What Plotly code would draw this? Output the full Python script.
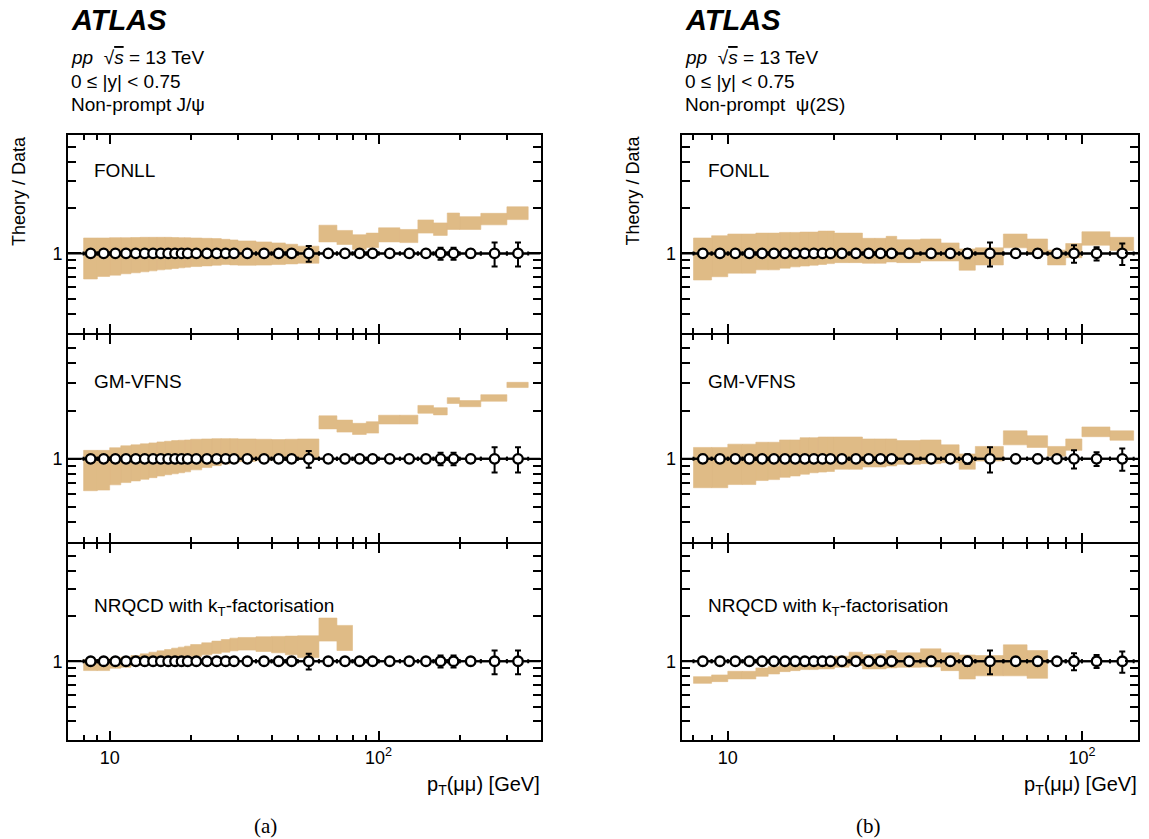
import math
import plotly.graph_objects as go

# ---------------- data ----------------
EDGES_JPSI = [8, 9, 10, 11, 12, 13, 14, 15, 16, 17, 18, 19, 20, 22, 24, 26, 28, 30, 35, 40, 45, 50,
              60, 70, 80, 90, 100, 120, 140, 160, 180, 200, 240, 300, 360]
EDGES_PSI2S = [8, 9, 10, 11, 12, 13, 14, 15, 16, 17, 18, 19, 20, 22, 24, 26, 28, 30, 35, 40, 45, 50,
               60, 70, 80, 90, 100, 120, 140]

# relative data uncertainties (Data/Data = 1)
ERR_JPSI = [0.015, 0.01, 0.01, 0.01, 0.01, 0.01, 0.01, 0.01, 0.01, 0.01, 0.01, 0.01, 0.01, 0.01,
            0.01, 0.01, 0.01, 0.015, 0.015, 0.015, 0.015, 0.12, 0.015, 0.02, 0.02, 0.035, 0.02,
            0.025, 0.03, 0.09, 0.09, 0.06, 0.18, 0.18]
ERR_PSI2S = [0.06, 0.02, 0.015, 0.015, 0.015, 0.015, 0.015, 0.015, 0.015, 0.015, 0.015, 0.015,
             0.015, 0.015, 0.015, 0.015, 0.015, 0.015, 0.02, 0.02, 0.07, 0.18, 0.03, 0.06, 0.04,
             0.13, 0.1, 0.16]

# J/psi theory / data bands
FONLL_JPSI_UP = [1.263, 1.263, 1.269, 1.269, 1.272, 1.276, 1.276, 1.276, 1.276, 1.272, 1.269, 1.269,
                 1.263, 1.257, 1.251, 1.238, 1.226, 1.208, 1.19, 1.172, 1.149, 1.116, 1.533, 1.416,
                 1.327, 1.36, 1.473, 1.437, 1.66, 1.587, 1.843, 1.745, 1.834, 2.025]
FONLL_JPSI_LO = [0.679, 0.706, 0.720, 0.735, 0.746, 0.757, 0.768, 0.780, 0.788, 0.796, 0.804, 0.812,
                 0.820, 0.828, 0.836, 0.845, 0.840, 0.836, 0.838, 0.845, 0.853, 0.862, 1.19, 1.144,
                 1.062, 1.094, 1.19, 1.178, 1.36, 1.314, 1.437, 1.437, 1.541, 1.668]
GMVFNS_JPSI_UP = [1.130, 1.130, 1.174, 1.207, 1.224, 1.242, 1.259, 1.277, 1.289, 1.302, 1.308, 1.314,
                  1.327, 1.333, 1.339, 1.339, 1.339, 1.333, 1.327, 1.32, 1.327, 1.333, 1.862, 1.751,
                  1.671, 1.711, 1.879, 1.879, 2.165, 2.095, 2.424, 2.323, 2.529, 3.025]
GMVFNS_JPSI_LO = [0.630, 0.636, 0.686, 0.709, 0.726, 0.743, 0.761, 0.779, 0.794, 0.805, 0.817, 0.828,
                  0.852, 0.881, 0.906, 0.927, 0.945, 0.963, 0.977, 0.986, 0.995, 1.0, 1.542, 1.472,
                  1.423, 1.451, 1.655, 1.655, 1.933, 1.888, 2.227, 2.125, 2.301, 2.805]
NRQCD_JPSI_UP = [1.026, 1.026, 1.047, 1.063, 1.091, 1.119, 1.148, 1.172, 1.196, 1.221, 1.24, 1.259,
                 1.291, 1.325, 1.36, 1.394, 1.423, 1.438, 1.453, 1.461, 1.468, 1.476, 1.935, 1.729]
NRQCD_JPSI_LO = [0.867, 0.867, 0.898, 0.912, 0.936, 0.96, 0.975, 0.985, 1.0, 1.015, 1.031, 1.047,
                 1.074, 1.102, 1.125, 1.148, 1.172, 1.185, 1.16, 1.137, 1.102, 1.058, 1.36, 1.178]

# psi(2S) theory / data bands
FONLL_PSI_UP = [1.263, 1.307, 1.341, 1.341, 1.36, 1.36, 1.374, 1.374, 1.381, 1.381, 1.402, 1.402,
                1.36, 1.36, 1.257, 1.257, 1.295, 1.232, 1.244, 1.172, 1.07, 1.088, 1.341, 1.244,
                1.051, 1.161, 1.388, 1.276]
FONLL_PSI_LO = [0.669, 0.703, 0.742, 0.742, 0.78, 0.78, 0.80, 0.816, 0.826, 0.836, 0.846, 0.857,
                0.87, 0.87, 0.862, 0.862, 0.879, 0.87, 0.892, 0.892, 0.776, 0.84, 1.088, 1.01,
                0.84, 0.937, 1.132, 1.046]
GMVFNS_PSI_UP = [1.179, 1.179, 1.236, 1.236, 1.271, 1.271, 1.314, 1.314, 1.358, 1.358, 1.371, 1.371,
                 1.371, 1.371, 1.333, 1.333, 1.333, 1.302, 1.314, 1.224, 1.073, 1.196, 1.499, 1.397,
                 1.196, 1.333, 1.586, 1.499]
GMVFNS_PSI_LO = [0.658, 0.658, 0.689, 0.689, 0.73, 0.74, 0.765, 0.78, 0.80, 0.817, 0.825, 0.832,
                 0.86, 0.86, 0.889, 0.889, 0.902, 0.923, 0.932, 0.945, 0.86, 0.968, 1.224, 1.179,
                 1.038, 1.13, 1.377, 1.308]
NRQCD_PSI_UP = [0.79, 0.811, 0.858, 0.858, 0.903, 0.921, 0.95, 0.975, 1.0, 1.021, 1.036, 1.052,
                1.08, 1.148, 1.108, 1.119, 1.178, 1.137, 1.208, 1.137, 1.10, 1.09, 1.285, 1.178]
NRQCD_PSI_LO = [0.713, 0.732, 0.763, 0.763, 0.794, 0.823, 0.853, 0.866, 0.88, 0.88, 0.889, 0.889,
                0.912, 0.936, 0.889, 0.889, 0.903, 0.912, 0.915, 0.866, 0.762, 0.80, 0.80, 0.77]

MODEL_LABELS = ["FONLL", "GM-VFNS", "NRQCD with k<sub>T</sub>-factorisation"]
STATE_LABELS = ["Non-prompt J/\u03c8", "Non-prompt  \u03c8(2S)"]
PANEL_TAGS = ["(a)", "(b)"]

X_RANGE = [(7.0, 400.0), (7.4, 144.0)]
Y_RANGE = (0.3, 6.0)
Y_MINOR = [0.3, 0.4, 0.5, 0.6, 0.7, 0.8, 0.9, 2, 3, 4, 5, 6]
X_MINOR = [[8, 9, 20, 30, 40, 50, 60, 70, 80, 90, 200, 300, 400],
           [8, 9, 20, 30, 40, 50, 60, 70, 80, 90]]

# ---------------- layout geometry (pixels) ----------------
W, H = 1149, 839
COL_PX = [(68.0, 540.5), (681.5, 1138.0)]
ROW_PX = [(135, 333), (335, 542), (544, 740)]
BAND = "rgb(223,187,134)"
FONT = "Liberation Sans"


def fx(p):
    return p / W


def fy(p):
    return 1 - p / H


fig = go.Figure()

bands = [
    [(FONLL_JPSI_UP, FONLL_JPSI_LO), (GMVFNS_JPSI_UP, GMVFNS_JPSI_LO), (NRQCD_JPSI_UP, NRQCD_JPSI_LO)],
    [(FONLL_PSI_UP, FONLL_PSI_LO), (GMVFNS_PSI_UP, GMVFNS_PSI_LO), (NRQCD_PSI_UP, NRQCD_PSI_LO)],
]
edges_all = [EDGES_JPSI, EDGES_PSI2S]
errs_all = [ERR_JPSI, ERR_PSI2S]

layout_axes = {}
annotations = []

for c in range(2):
    edges = edges_all[c]
    errs = errs_all[c]
    centers = [(edges[i] + edges[i + 1]) / 2 for i in range(len(edges) - 1)]
    half = [(edges[i + 1] - edges[i]) / 2 for i in range(len(edges) - 1)]
    ones = [1.0] * len(centers)
    for r in range(3):
        n = c * 3 + r + 1
        xa = "x" if n == 1 else f"x{n}"
        ya = "y" if n == 1 else f"y{n}"
        up, lo = bands[c][r]
        bx, by = [], []
        for i in range(len(up)):
            a, b = edges[i], edges[i + 1]
            bx += [a, b, b, a, a, None]
            by += [lo[i], lo[i], up[i], up[i], lo[i], None]
        fig.add_trace(go.Scatter(x=bx, y=by, mode="lines", fill="toself", fillcolor=BAND,
                                 line=dict(width=0.6, color=BAND), xaxis=xa, yaxis=ya,
                                 hoverinfo="skip", showlegend=False))
        # reference line at 1 across the whole frame
        fig.add_trace(go.Scatter(x=list(X_RANGE[c]), y=[1, 1], mode="lines",
                                 line=dict(color="black", width=2), xaxis=xa, yaxis=ya,
                                 hoverinfo="skip", showlegend=False))
        fig.add_trace(go.Scatter(
            x=centers, y=ones, mode="markers", xaxis=xa, yaxis=ya, showlegend=False,
            marker=dict(symbol="circle", size=9.5, color="white", line=dict(color="black", width=2.3)),
            error_y=dict(type="data", array=errs, color="black", thickness=2, width=3),
            error_x=dict(type="data", array=half, color="black", thickness=2, width=2),
        ))

        x0, x1 = COL_PX[c]
        y0, y1 = ROW_PX[r]
        bottom = (r == 2)
        layout_axes["xaxis" if n == 1 else f"xaxis{n}"] = dict(
            type="log", range=[math.log10(X_RANGE[c][0]), math.log10(X_RANGE[c][1])],
            domain=[fx(x0), fx(x1)], anchor=ya, showline=True, linecolor="black", linewidth=2,
            mirror="allticks", ticks="inside", ticklen=9, tickwidth=1.5, tickcolor="black",
            tickmode="array", tickvals=[10, 100], ticktext=["10", "10<sup>2</sup>"],
            showticklabels=bottom, showgrid=False, zeroline=False,
            tickfont=dict(family=FONT, size=18, color="black"),
            minor=dict(tickmode="array", tickvals=X_MINOR[c], ticks="inside", ticklen=5,
                       tickwidth=1.5, tickcolor="black", showgrid=False),
        )
        layout_axes["yaxis" if n == 1 else f"yaxis{n}"] = dict(
            type="log", range=[math.log10(Y_RANGE[0]), math.log10(Y_RANGE[1])],
            domain=[fy(y1), fy(y0)], anchor=xa, showline=True, linecolor="black", linewidth=2,
            mirror="allticks", ticks="inside", ticklen=13, tickwidth=1.5, tickcolor="black",
            tickmode="array", tickvals=[1], ticktext=["1"], showgrid=False, zeroline=False,
            tickfont=dict(family=FONT, size=18, color="black"),
            minor=dict(tickmode="array", tickvals=Y_MINOR, ticks="inside", ticklen=8,
                       tickwidth=1.5, tickcolor="black", showgrid=False),
        )
        # model label
        label_y = [170, 381, 607][r]
        annotations.append(dict(text=MODEL_LABELS[r], x=fx(x0 + 24), y=fy(label_y), xref="paper",
                                yref="paper", xanchor="left", yanchor="middle", showarrow=False,
                                font=dict(family=FONT, size=19, color="black")))

    x0, x1 = COL_PX[c]
    lx = fx(x0 + 1)
    annotations += [
        dict(text="<b><i>ATLAS</i></b>", x=lx, y=fy(20), xref="paper", yref="paper",
             xanchor="left", yanchor="middle", showarrow=False,
             font=dict(family=FONT, size=29, color="black")),
        dict(text="<i>pp</i>  \u221a<span style='text-decoration:overline'><i>s</i></span> = 13 TeV",
             x=lx, y=fy(57), xref="paper", yref="paper", xanchor="left", yanchor="middle",
             showarrow=False, font=dict(family=FONT, size=19, color="black")),
        dict(text="0 \u2264 |y| < 0.75", x=lx, y=fy(81), xref="paper", yref="paper",
             xanchor="left", yanchor="middle", showarrow=False,
             font=dict(family=FONT, size=19, color="black")),
        dict(text=STATE_LABELS[c], x=lx, y=fy(104), xref="paper", yref="paper",
             xanchor="left", yanchor="middle", showarrow=False,
             font=dict(family=FONT, size=19, color="black")),
        dict(text="Theory / Data", x=fx(x0 - 49), y=fy(191), xref="paper", yref="paper",
             xanchor="center", yanchor="middle", textangle=-90, showarrow=False,
             font=dict(family=FONT, size=18, color="black")),
        dict(text="p<sub>T</sub>(\u03bc\u03bc) [GeV]", x=fx(x1 + 1), y=fy(785), xref="paper",
             yref="paper", xanchor="right", yanchor="middle", showarrow=False,
             font=dict(family=FONT, size=20, color="black")),
        dict(text=PANEL_TAGS[c], x=fx(265 if c == 0 else 868),
             y=fy(826), xref="paper", yref="paper", xanchor="center", yanchor="middle",
             showarrow=False, font=dict(family="Liberation Serif", size=21, color="black")),
    ]

fig.update_layout(
    width=W, height=H, autosize=False,
    margin=dict(l=0, r=0, t=0, b=0),
    paper_bgcolor="white", plot_bgcolor="white",
    showlegend=False,
    annotations=annotations,
    **layout_axes,
)

fig.write_html("out.html", config={"displayModeBar": False},
               post_script="document.body.style.margin='0px';")
